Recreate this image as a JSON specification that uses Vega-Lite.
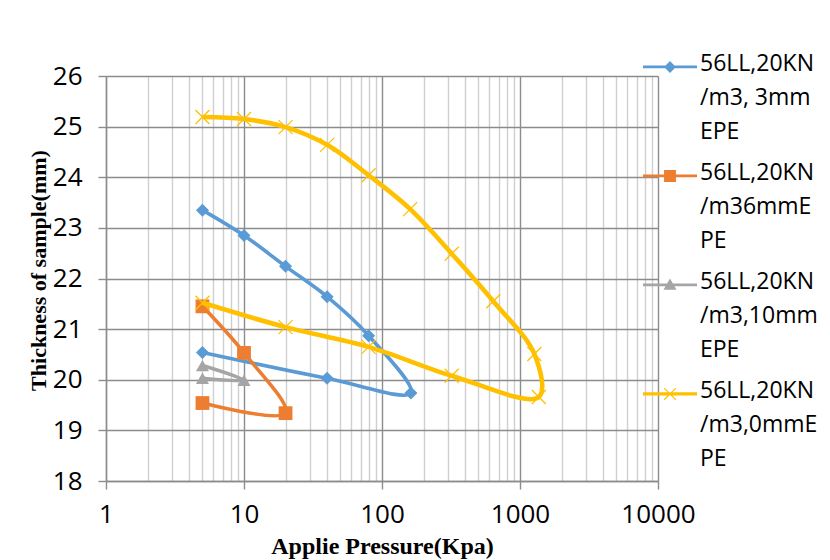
{
  "$schema": "https://vega.github.io/schema/vega-lite/v6.json",
  "autosize": {"type": "none"},
  "width": 552,
  "height": 405,
  "padding": {"left": 106, "top": 76, "right": 172, "bottom": 79},
  "background": "white",
  "config": {
    "view": {"stroke": null},
    "style": {"guide-label": {"lineHeight": 34}}
  },
  "data": {
    "values": [
      {"s": "56LL,20KN/m3, 3mm EPE", "i": 1, "x": 5, "y": 23.35},
      {"s": "56LL,20KN/m3, 3mm EPE", "i": 2, "x": 10, "y": 22.85},
      {"s": "56LL,20KN/m3, 3mm EPE", "i": 3, "x": 20, "y": 22.24},
      {"s": "56LL,20KN/m3, 3mm EPE", "i": 4, "x": 40, "y": 21.64},
      {"s": "56LL,20KN/m3, 3mm EPE", "i": 5, "x": 80, "y": 20.87},
      {"s": "56LL,20KN/m3, 3mm EPE", "i": 6, "x": 162, "y": 19.74},
      {"s": "56LL,20KN/m3, 3mm EPE", "i": 7, "x": 40, "y": 20.03},
      {"s": "56LL,20KN/m3, 3mm EPE", "i": 8, "x": 5, "y": 20.54},
      {"s": "56LL,20KN/m36mmEPE", "i": 1, "x": 5, "y": 21.45},
      {"s": "56LL,20KN/m36mmEPE", "i": 2, "x": 10, "y": 20.53},
      {"s": "56LL,20KN/m36mmEPE", "i": 3, "x": 20, "y": 19.34},
      {"s": "56LL,20KN/m36mmEPE", "i": 4, "x": 5, "y": 19.54},
      {"s": "56LL,20KN/m3,10mm EPE", "i": 1, "x": 5, "y": 20.28},
      {"s": "56LL,20KN/m3,10mm EPE", "i": 2, "x": 10, "y": 19.99},
      {"s": "56LL,20KN/m3,10mm EPE", "i": 3, "x": 5, "y": 20.03},
      {"s": "56LL,20KN/m3,0mmEPE", "i": 1, "x": 5, "y": 25.19},
      {"s": "56LL,20KN/m3,0mmEPE", "i": 2, "x": 10, "y": 25.15},
      {"s": "56LL,20KN/m3,0mmEPE", "i": 3, "x": 20, "y": 24.99},
      {"s": "56LL,20KN/m3,0mmEPE", "i": 4, "x": 40, "y": 24.64},
      {"s": "56LL,20KN/m3,0mmEPE", "i": 5, "x": 80, "y": 24.04},
      {"s": "56LL,20KN/m3,0mmEPE", "i": 6, "x": 160, "y": 23.37},
      {"s": "56LL,20KN/m3,0mmEPE", "i": 7, "x": 320, "y": 22.49},
      {"s": "56LL,20KN/m3,0mmEPE", "i": 8, "x": 640, "y": 21.55},
      {"s": "56LL,20KN/m3,0mmEPE", "i": 9, "x": 1270, "y": 20.51},
      {"s": "56LL,20KN/m3,0mmEPE", "i": 10, "x": 1370, "y": 19.66},
      {"s": "56LL,20KN/m3,0mmEPE", "i": 11, "x": 320, "y": 20.08},
      {"s": "56LL,20KN/m3,0mmEPE", "i": 12, "x": 80, "y": 20.65},
      {"s": "56LL,20KN/m3,0mmEPE", "i": 13, "x": 20, "y": 21.04},
      {"s": "56LL,20KN/m3,0mmEPE", "i": 14, "x": 5, "y": 21.52}
    ]
  },
  "encoding": {
    "x": {
      "field": "x", "type": "quantitative",
      "scale": {"type": "log", "domain": [1, 10000], "nice": false},
      "axis": {
        "title": "Applie Pressure(Kpa)",
        "values": [1,2,3,4,5,6,7,8,9,10,20,30,40,50,60,70,80,90,100,200,300,400,500,600,700,800,900,1000,2000,3000,4000,5000,6000,7000,8000,9000,10000],
        "labelExpr": "indexof([1,10,100,1000,10000], datum.value) >= 0 ? format(datum.value, 'd') : ''",
        "grid": true,
        "gridColor": {"condition": {"test": "indexof([1,10,100,1000,10000], datum.value) >= 0", "value": "#8c8c8c"}, "value": "#cfcfcf"},
        "gridWidth": 1.4,
        "tickOpacity": {"condition": {"test": "indexof([1,10,100,1000,10000], datum.value) >= 0", "value": 1}, "value": 0},
        "tickColor": "#8c8c8c",
        "tickSize": 8,
        "tickWidth": 1.4,
        "domainColor": "#8c8c8c",
        "domainWidth": 1.4,
        "labelFont": "Open Sans",
        "labelFontSize": 26,
        "labelColor": "#000000",
        "labelPadding": 12,
        "labelOverlap": false,
        "labelFlush": false,
        "titleFont": "Liberation Serif",
        "titleFontWeight": "bold",
        "titleFontSize": 24,
        "titleColor": "#000000",
        "titleBaseline": "middle",
        "titleY": 65
      }
    },
    "y": {
      "field": "y", "type": "quantitative",
      "scale": {"domain": [18, 26], "nice": false, "zero": false},
      "axis": {
        "title": "Thickness of sample(mm)",
        "values": [18,19,20,21,22,23,24,25,26],
        "grid": true,
        "gridColor": "#8c8c8c",
        "gridWidth": 1.4,
        "tickColor": "#8c8c8c",
        "tickSize": 8,
        "tickWidth": 1.4,
        "domainColor": "#8c8c8c",
        "domainWidth": 1.4,
        "labelFont": "Open Sans",
        "labelFontSize": 26,
        "labelColor": "#000000",
        "labelPadding": 16,
        "titleFont": "Liberation Serif",
        "titleFontWeight": "bold",
        "titleFontSize": 22,
        "titleColor": "#000000",
        "titleAngle": 270,
        "titleBaseline": "middle",
        "titleX": -68,
        "titleY": 194
      }
    }
  },
  "layer": [
    {
      "transform": [{"filter": "datum.s == '56LL,20KN/m3, 3mm EPE'"}],
      "mark": {"type": "line", "interpolate": "catmull-rom", "color": "#5B9BD5", "strokeWidth": 3.6},
      "encoding": {"order": {"field": "i", "type": "quantitative"}}
    },
    {
      "transform": [{"filter": "datum.s == '56LL,20KN/m3, 3mm EPE'"}],
      "mark": {"type": "point", "shape": "diamond", "filled": true, "size": 170, "color": "#5B9BD5", "opacity": 1}
    },
    {
      "transform": [{"filter": "datum.s == '56LL,20KN/m36mmEPE'"}],
      "mark": {"type": "line", "interpolate": "catmull-rom", "color": "#ED7D31", "strokeWidth": 3.6},
      "encoding": {"order": {"field": "i", "type": "quantitative"}}
    },
    {
      "transform": [{"filter": "datum.s == '56LL,20KN/m36mmEPE'"}],
      "mark": {"type": "point", "shape": "square", "filled": true, "size": 190, "color": "#ED7D31", "opacity": 1}
    },
    {
      "transform": [{"filter": "datum.s == '56LL,20KN/m3,10mm EPE'"}],
      "mark": {"type": "line", "interpolate": "catmull-rom", "color": "#A5A5A5", "strokeWidth": 3.6},
      "encoding": {"order": {"field": "i", "type": "quantitative"}}
    },
    {
      "transform": [{"filter": "datum.s == '56LL,20KN/m3,10mm EPE'"}],
      "mark": {"type": "point", "shape": "triangle-up", "filled": true, "size": 170, "color": "#A5A5A5", "opacity": 1}
    },
    {
      "transform": [{"filter": "datum.s == '56LL,20KN/m3,0mmEPE'"}],
      "mark": {"type": "line", "interpolate": "catmull-rom", "color": "#FFC000", "strokeWidth": 4.6},
      "encoding": {"order": {"field": "i", "type": "quantitative"}}
    },
    {
      "transform": [{"filter": "datum.s == '56LL,20KN/m3,0mmEPE'"}],
      "mark": {"type": "point", "shape": "M-1,-1L1,1M-1,1L1,-1", "filled": false, "size": 196, "color": "#FFC000", "strokeWidth": 1.3, "opacity": 1}
    },
    {
      "mark": {"type": "point", "filled": true, "opacity": 0},
      "encoding": {
        "color": {"field": "s", "type": "nominal",
          "scale": {"domain": ["56LL,20KN/m3, 3mm EPE", "56LL,20KN/m36mmEPE", "56LL,20KN/m3,10mm EPE", "56LL,20KN/m3,0mmEPE"],
                    "range": ["#5B9BD5", "#ED7D31", "#A5A5A5", "#FFC000"]},
          "legend": {
            "orient": "none", "legendX": 537, "legendY": -39,
            "title": null,
            "labelExpr": "datum.label == '56LL,20KN/m3, 3mm EPE' ? ['56LL,20KN', '/m3, 3mm', 'EPE'] : datum.label == '56LL,20KN/m36mmEPE' ? ['56LL,20KN', '/m36mmE', 'PE'] : datum.label == '56LL,20KN/m3,10mm EPE' ? ['56LL,20KN', '/m3,10mm', 'EPE'] : ['56LL,20KN', '/m3,0mmE', 'PE']",
            "labelFont": "Open Sans", "labelFontSize": 23, "labelColor": "#000000",
            "labelBaseline": "middle", "labelOffset": 3, "labelLimit": 0,
            "symbolSize": 2916, "symbolStrokeWidth": 0, "symbolOpacity": 1,
            "rowPadding": 2
          }},
        "shape": {"field": "s", "type": "nominal",
          "scale": {"domain": ["56LL,20KN/m3, 3mm EPE", "56LL,20KN/m36mmEPE", "56LL,20KN/m3,10mm EPE", "56LL,20KN/m3,0mmEPE"],
            "range": [
              "M-1,0.06L1,0.06L1,0.16L-1,0.16Z M-0.22,0.11L0,-0.11L0.22,0.11L0,0.33Z",
              "M-1,0.06L1,0.06L1,0.16L-1,0.16Z M-0.22,-0.11L0.22,-0.11L0.22,0.33L-0.22,0.33Z",
              "M-1,0.06L1,0.06L1,0.16L-1,0.16Z M0,-0.13L0.24,0.29L-0.24,0.29Z",
              "M-1,0.05L1,0.05L1,0.17L-1,0.17Z M-0.2,-0.12L0.23,0.31L0.2,0.34L-0.23,-0.09Z M-0.23,0.31L0.2,-0.12L0.23,-0.09L-0.2,0.34Z"
            ]},
          "legend": {
            "orient": "none", "legendX": 537, "legendY": -39,
            "title": null,
            "labelExpr": "datum.label == '56LL,20KN/m3, 3mm EPE' ? ['56LL,20KN', '/m3, 3mm', 'EPE'] : datum.label == '56LL,20KN/m36mmEPE' ? ['56LL,20KN', '/m36mmE', 'PE'] : datum.label == '56LL,20KN/m3,10mm EPE' ? ['56LL,20KN', '/m3,10mm', 'EPE'] : ['56LL,20KN', '/m3,0mmE', 'PE']",
            "labelFont": "Open Sans", "labelFontSize": 23, "labelColor": "#000000",
            "labelBaseline": "middle", "labelOffset": 3, "labelLimit": 0,
            "symbolSize": 2916, "symbolStrokeWidth": 0, "symbolOpacity": 1,
            "rowPadding": 2
          }}
      }
    }
  ]
}
